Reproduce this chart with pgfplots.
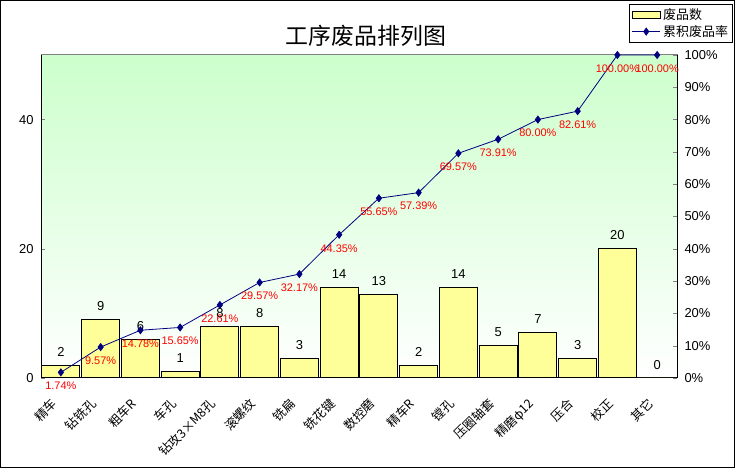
\documentclass[border=0pt]{standalone}
\usepackage{fontspec}
\setmainfont{Liberation Sans}
\newfontfamily\cjk{Noto Sans CJK SC}
\usepackage{pgfplots}
\pgfplotsset{compat=1.18}
\usepackage{pgfplotstable}
\definecolor{barfill}{RGB}{255,255,153}
\definecolor{bgtop}{RGB}{204,255,204}
\definecolor{linecol}{RGB}{0,0,128}
\pgfplotstableread{
x y
0 2
1 9
2 6
3 1
4 8
5 8
6 3
7 14
8 13
9 2
10 14
11 5
12 7
13 3
14 20
15 0
}\bars
\pgfplotstableread{
x y lab
0 1.74 1.74\%
1 9.57 9.57\%
2 14.78 14.78\%
3 15.65 15.65\%
4 22.61 22.61\%
5 29.57 29.57\%
6 32.17 32.17\%
7 44.35 44.35\%
8 55.65 55.65\%
9 57.39 57.39\%
10 69.57 69.57\%
11 73.91 73.91\%
12 80.00 80.00\%
13 82.61 82.61\%
14 100.00 100.00\%
15 100.00 100.00\%
}\cum
\begin{document}
\begin{tikzpicture}[x=1bp,y=1bp]
\useasboundingbox (0,0) rectangle (735,468);
\draw[line width=1bp] (0.5,0.5) rectangle (734.5,467.5);
\node[font=\cjk\fontsize{23}{23}\selectfont] at (366,432) {工序废品排列图};
\begin{axis}[
  at={(41bp,90bp)}, anchor=south west,
  scale only axis, width=636bp, height=323bp,
  xmin=-0.5, xmax=15.5, ymin=0, ymax=50,
  axis x line=bottom, axis y line=left,
  axis line style={-, black, line width=1bp},
  axis background/.style={top color=bgtop, bottom color=white, draw=gray, line width=1bp},
  tick align=inside, major tick length=4bp,
  ytick={0,20,40},
  xtick={0,...,15},
  xtick style={draw=none},
  xticklabels={精车,钻铣孔,粗车R,车孔,钻攻3×M8孔,滚螺纹,铣扁,铣花键,数控磨,精车R,镗孔,压圈轴套,精磨φ12,压合,校正,其它},
  xticklabel style={font=\cjk\fontsize{12.5}{12.5}\selectfont, rotate=45, anchor=north east, inner sep=1bp, yshift=-5bp, xshift=-20bp},
  yticklabel style={font=\fontsize{13}{13}\selectfont, xshift=-4bp},
  /pgf/number format/assume math mode=true,
  clip=false,
]
\addplot[ybar, bar width=38bp, fill=barfill, draw=black, line width=1bp,
  nodes near coords, every node near coord/.append style={font=\fontsize{13}{13}\selectfont, black, yshift=5bp}]
  table[x=x,y=y]{\bars};
\end{axis}
\begin{axis}[
  at={(41bp,90bp)}, anchor=south west,
  scale only axis, width=636bp, height=323bp,
  xmin=-0.5, xmax=15.5, ymin=0, ymax=100,
  axis x line=none, axis y line=right,
  axis line style={-, black, line width=1bp},
  tick align=inside, major tick length=4bp,
  ytick={0,10,...,100},
  yticklabel={\pgfmathprintnumber{\tick}\%},
  yticklabel style={font=\fontsize{13}{13}\selectfont, xshift=4bp},
  /pgf/number format/assume math mode=true,
  clip=false,
  legend style={at={(1.088,1.158)}, anchor=north east, draw=black, line width=1bp,
    font=\cjk\fontsize{13}{13}\selectfont, inner sep=2bp, row sep=-1bp,
    nodes={inner sep=2.5bp}},
  legend cell align=left,
  legend image code/.code={},
]
\addlegendimage{legend image code/.code={\draw[fill=barfill,draw=black,line width=1bp] (0bp,-3.5bp) rectangle (28bp,3.5bp);}}
\addlegendentry{废品数}
\addplot[color=linecol, line width=0.8bp, mark=diamond*, mark size=3.5bp,
  mark options={fill=linecol},
  legend image code/.code={\draw[color=linecol,line width=0.8bp] (0bp,0bp) -- (28bp,0bp); \fill[linecol] (14bp,0bp) +(0,3.5bp) -- +(2.5bp,0) -- +(0,-3.5bp) -- +(-2.5bp,0) -- cycle;},
  point meta=explicit symbolic,
  nodes near coords,
  every node near coord/.append style={font=\fontsize{11}{11}\selectfont, text=red, anchor=north, yshift=-6bp}]
  table[x=x,y=y,meta=lab]{\cum};
\addlegendentry{累积废品率}
\end{axis}
\end{tikzpicture}
\end{document}
